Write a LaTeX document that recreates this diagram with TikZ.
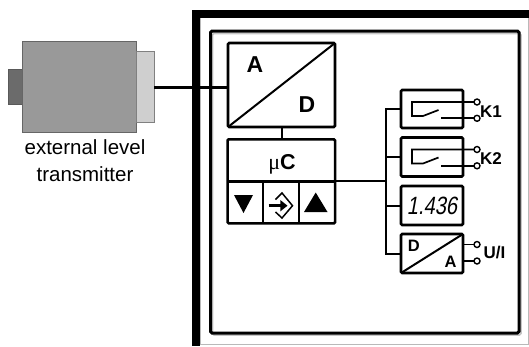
\documentclass[tikz,border=0pt]{standalone}
\usepackage{fontspec}
\setmainfont{Liberation Sans}
\newfontfamily\mufont{Liberation Serif}
\newfontfamily\segfont[FakeStretch=0.8,FakeSlant=0.18]{Liberation Sans}
\begin{document}
\begin{tikzpicture}[x=1pt,y=-1pt,
 blk/.style={draw, line width=2.6pt, rounded corners=1.2pt, inner sep=0pt, outer sep=0pt, fill=white},
 conn/.style={line width=2pt},
 thinl/.style={line width=1.7pt},
 term/.style={circle, draw, line width=1.4pt, fill=white, inner sep=0pt, outer sep=0pt, minimum size=6pt},
 lbl/.style={font=\bfseries\fontsize{17}{20}\selectfont, inner sep=0pt},
 big/.style={font=\bfseries\fontsize{23}{26}\selectfont, inner sep=0pt},
 small/.style={font=\bfseries\fontsize{16.5}{19}\selectfont, inner sep=0pt},
 caption/.style={anchor=base, font=\fontsize{20.5}{24}\selectfont, inner sep=0pt},
]
\useasboundingbox (0,0) rectangle (529,346);
% outer frame
\draw[gray!55, line width=1pt] (200,17) rectangle (528,344.5);
\fill (192,10) rectangle (529,17.5);
\fill (192,10) rectangle (200,346);
% inner frame with light shadow
\draw[gray!45, line width=1.5pt, rounded corners=1.5pt] (212.5,33.5) rectangle (521,335);
\draw[line width=3pt, rounded corners=1.5pt] (210.5,31) rectangle (519,333);

% transmitter
\node[draw=black!65, fill=black!58, line width=0.8pt, inner sep=0pt, minimum width=14pt, minimum height=35pt] (tl) at (15.3,86.8) {};
\node[draw=black!60, fill=black!40, line width=0.8pt, inner sep=0pt, minimum width=114pt, minimum height=91pt] (tb) at (79.2,87.2) {};
\node[draw=black!50, fill=black!19, line width=0.8pt, inner sep=0pt, outer sep=0pt, minimum width=18pt, minimum height=70.6pt] (tr) at (145,87) {};
\node[caption] (t1) at (85,154) {external level};
\node[caption] (t2) at (85,181.5) {transmitter};

% A/D converter
\node[blk, minimum width=107pt, minimum height=84pt] (ad) at (281.5,85) {};
\draw[conn] (ad.south west) -- (ad.north east);
\node[big] (ta) at (255,65) {A};
\node[big] (td) at (307,105) {D};
\draw[line width=3pt] (tr.east) -- (tr.east -| ad.west);

% microcontroller
\node[blk, minimum width=107.5pt, minimum height=84pt] (mc) at (281.3,181.3) {};
\draw[line width=2.4pt] (mc.west) -- (mc.east);
\draw[line width=2.4pt] (263,181.3) -- (263,223.3);
\draw[line width=2.4pt] (299,181.3) -- (299,223.3);
\node[anchor=base, inner sep=0pt] (tmc) at (282,169) {{\mufont\fontsize{22}{26}\selectfont μ}{\bfseries\fontsize{21.5}{26}\selectfont C}};
\fill (234,195) -- (253,195) -- (243.5,213) -- cycle;
\fill (304,212) -- (327.5,212) -- (315.7,192.5) -- cycle;
% enter key symbol
\draw[line width=1.5pt, line join=miter] (275.5,199.5) -- (282,193) -- (292.5,205.7) -- (282,218) -- (275.5,212);
\draw[line width=3.2pt] (268.5,205.7) -- (282,205.7);
\fill (280.3,200) -- (287.5,205.7) -- (280.3,211.4) -- cycle;
\draw[conn] (ad.south) -- (ad.south |- mc.north);

% output modules
\node[blk, minimum width=62pt, minimum height=38pt] (k1) at (432,109) {};
\node[blk, minimum width=62pt, minimum height=39pt] (k2) at (432,157) {};
\node[blk, minimum width=62pt, minimum height=39pt] (disp) at (432,205.5) {};
\node[blk, minimum width=62pt, minimum height=39pt] (da) at (432,253.5) {};

% bus
\coordinate (bt) at (386,109);
\draw[conn] (mc.east) -- (mc.east -| bt);
\draw[conn] (k1.west) -- (bt) -- (bt |- da.west) -- (da.west);
\draw[conn] (bt |- k2.west) -- (k2.west);
\draw[conn] (bt |- disp.west) -- (disp.west);

% relay K1
\begin{scope}[shift={(k1.north west)}]
\node[term] (k1a) at (76,12) {};
\node[term] (k1b) at (76,28.3) {};
\draw[thinl] (k1a.west) -- (11,12) -- (11,26) -- (22,26) -- (37.5,20);
\draw[thinl] (40,28.3) -- (k1b.west);
\end{scope}
\node[lbl, anchor=west] (k1l) at (480,111.5) {K1};

% relay K2
\begin{scope}[shift={(k2.north west)}]
\node[term] (k2a) at (76,12) {};
\node[term] (k2b) at (76,28.3) {};
\draw[thinl] (k2a.west) -- (11,12) -- (11,26) -- (22,26) -- (37.5,20);
\draw[thinl] (40,28.3) -- (k2b.west);
\end{scope}
\node[lbl, anchor=west] (k2l) at (480,159) {K2};

% display
\node[font=\segfont\fontsize{25}{28}\selectfont, inner sep=0pt] (dtxt) at (disp.center) {1.436};

% D/A converter
\draw[conn] (da.south west) -- (da.north east);
\node[small] (dd) at (413.8,245.8) {D};
\node[small] (dA) at (450.5,261.7) {A};
\node[term] (dau) at (477,244.5) {};
\node[term] (dai) at (477,261) {};
\draw[thinl] (dau -| da.east) -- (dau.west);
\draw[thinl] (dai -| da.east) -- (dai.west);
\node[lbl, anchor=west] (uil) at (483.5,253) {U/I};
\end{tikzpicture}
\end{document}
